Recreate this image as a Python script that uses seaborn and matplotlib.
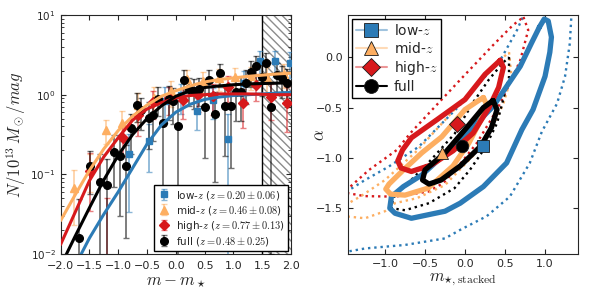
import matplotlib
matplotlib.use("Agg")
import matplotlib.pyplot as plt
from matplotlib.lines import Line2D
from matplotlib.colors import to_rgba
import numpy as np
import seaborn as sns

sns.set_style("ticks", {"xtick.direction": "in", "ytick.direction": "in"})
plt.rcParams["font.family"] = ["DejaVu Sans"]
plt.rcParams["mathtext.fontset"] = "cm"

blue, orange, red = "#2c7bb6", "#fdae61", "#d7191c"

# ---- left panel: binned counts
low_x = [-0.81, -0.46, -0.19, 0.09, 0.37, 0.64, 0.91, 1.18, 1.46, 1.73, 1.98]
low_y = [0.178, 0.266, 0.84, 0.98, 0.63, 0.85, 0.28, 1.41, 2.63, 2.63, 2.50]
low_err = [0.144, 0.16, 0.40, 0.40, 0.27, 0.35, 0.30, 0.55, 0.95, 0.95, 0.90]

mid_x = [-1.77, -1.49, -1.21, -0.93, -0.65, -0.37, -0.09, 0.19, 0.47, 0.75, 1.03, 1.31, 1.59, 1.87]
mid_y = [0.068, 0.12, 0.36, 0.44, 0.75, 0.90, 1.10, 1.59, 1.48, 1.60, 1.66, 1.70, 1.60, 1.80]
mid_err = [0.045, 0.06, 0.12, 0.18, 0.30, 0.35, 0.40, 0.45, 0.45, 0.50, 0.50, 0.55, 0.60, 0.60]

high_x = [-1.49, -1.19, -0.91, -0.65, -0.39, -0.12, 0.13, 0.38, 0.64, 0.90, 1.16, 1.40, 1.66, 1.93]
high_y = [0.11, 0.005, 0.29, 0.55, 0.80, 0.90, 0.85, 1.00, 0.95, 1.26, 0.78, 1.33, 0.93, 0.79]
high_err = [0.075, 0.046, 0.12, 0.25, 0.30, 0.35, 0.35, 0.40, 0.40, 0.45, 0.40, 0.50, 0.45, 0.45]

full_x = [-1.68, -1.49, -1.32, -1.19, -1.07, -0.97, -0.87, -0.785, -0.68, -0.60, -0.46,
          -0.40, -0.31, -0.23, -0.115, -0.045, 0.04, 0.14, 0.23, 0.31, 0.40, 0.50, 0.58,
          0.68, 0.77, 0.86, 0.95, 1.04, 1.125, 1.22, 1.31, 1.39, 1.49, 1.56, 1.66, 1.75,
          1.84, 1.93]
full_y = [0.016, 0.126, 0.081, 0.074, 0.19, 0.17, 0.126, 0.38, 0.75, 0.64, 0.51,
          0.56, 0.89, 0.44, 0.88, 0.83, 0.41, 1.55, 1.17, 1.12, 1.17, 0.71, 1.55,
          0.58, 1.86, 0.72, 0.72, 1.07, 1.07, 1.41, 1.95, 2.29, 1.66, 2.50, 0.71, 1.78,
          1.62, 1.41]
full_err = [0.033, 0.07, 0.10, 0.08, 0.12, 0.14, 0.11, 0.20, 0.30, 0.28, 0.30,
            0.30, 0.35, 0.40, 0.40, 0.40, 0.42, 0.50, 0.45, 0.45, 0.45, 0.55, 0.50,
            0.50, 0.60, 0.55, 0.60, 0.60, 0.60, 0.65, 0.70, 0.75, 0.70, 0.80, 0.70, 0.70,
            0.70, 0.70]

# fitted curves, log10 values read at regular m - m* steps
curve_x = [-2.0, -1.75, -1.5, -1.25, -1.0, -0.75, -0.5, -0.25, 0.0,
           0.25, 0.5, 0.75, 1.0, 1.25, 1.5, 1.75, 2.0]
low_curve = [-2.55, -2.15, -1.80, -1.50, -1.22, -0.92, -0.62, -0.38, -0.22,
             -0.12, -0.06, -0.03, -0.01, 0.0, 0.01, 0.02, 0.03]
mid_curve = [-1.58, -1.26, -0.95, -0.68, -0.45, -0.27, -0.13, -0.02, 0.05,
             0.11, 0.16, 0.19, 0.21, 0.23, 0.245, 0.26, 0.27]
high_curve = [-1.88, -1.48, -1.08, -0.78, -0.54, -0.32, -0.18, -0.10, -0.04,
              -0.01, 0.0, 0.01, 0.01, 0.01, 0.005, 0.0, 0.0]
full_curve = [-2.15, -1.78, -1.42, -1.07, -0.76, -0.50, -0.30, -0.14, -0.02,
              0.05, 0.09, 0.11, 0.125, 0.135, 0.14, 0.145, 0.148]

labels_left = [r"low-$z$ ($z=0.20\pm0.06$)", r"mid-$z$ ($z=0.46\pm0.08$)",
               r"high-$z$ ($z=0.77\pm0.13$)", r"full ($z=0.48\pm0.25$)"]

# ---- right panel: confidence contours (m_star, alpha)
low_1s_m = [0.93, 0.99, 1.04, 1.08, 1.06, 1.00, 0.85, 0.71, 0.52, 0.23, -0.06, -0.25, -0.67,
            -0.875, -0.94, -0.92, -0.77, -0.54, -0.10, 0.35, 0.69, 0.83, 0.93]
low_1s_a = [0.30, 0.38, 0.36, 0.20, 0.05, -0.19, -0.52, -0.72, -1.05, -1.285, -1.45, -1.53, -1.60,
            -1.55, -1.50, -1.385, -1.285, -1.17, -0.85, -0.49, -0.09, 0.14, 0.30]
low_2s_m = [0.75, 0.65, 0.44, 0.15, -0.08, -0.58, -0.96, -1.25, -1.48, -1.60, -1.60, -1.25,
            -0.75, -0.25, -0.06, 0.27, 0.56, 0.81, 0.96, 1.15, 1.25, 1.31, 1.33, 1.34]
low_2s_a = [0.45, 0.27, -0.03, -0.28, -0.49, -0.89, -1.09, -1.22, -1.335, -1.40, -1.95, -1.90,
            -1.865, -1.80, -1.715, -1.58, -1.385, -1.05, -0.74, -0.46, -0.19, 0.14, 0.42, 0.45]
mid_1s_m = [0.23, 0.27, 0.20, 0.05, -0.15, -0.46, -0.75, -0.93, -0.99, -0.95, -0.77, -0.54,
            -0.29, 0.00, 0.15, 0.23]
mid_1s_a = [-0.40, -0.47, -0.62, -0.85, -1.08, -1.30, -1.37, -1.36, -1.31, -1.26, -1.12, -0.95,
            -0.79, -0.52, -0.44, -0.40]
mid_2s_m = [0.55, 0.58, 0.48, 0.35, 0.10, -0.25, -0.60, -0.875, -1.00, -1.25, -1.50, -1.55,
            -1.50, -1.30, -1.00, -0.60, -0.20, 0.20, 0.45, 0.55]
mid_2s_a = [0.05, -0.19, -0.46, -0.69, -0.98, -1.27, -1.40, -1.45, -1.53, -1.60, -1.58, -1.52,
            -1.47, -1.38, -1.22, -0.93, -0.58, -0.22, -0.02, 0.05]
high_1s_m = [0.44, 0.48, 0.42, 0.30, 0.10, -0.15, -0.42, -0.67, -0.80, -0.84, -0.78, -0.67,
             -0.35, 0.00, 0.25, 0.44]
high_1s_a = [-0.03, -0.10, -0.30, -0.50, -0.755, -0.93, -1.07, -1.135, -1.10, -1.03, -0.92, -0.80,
             -0.62, -0.42, -0.17, -0.03]
high_2s_m = [0.73, 0.79, 0.69, 0.56, 0.40, 0.15, -0.10, -0.27, -0.46, -0.875, -1.25, -1.47,
             -1.50, -1.44, -1.20, -0.85, -0.69, -0.35, -0.02, 0.35, 0.60, 0.73]
high_2s_a = [0.40, 0.27, -0.03, -0.26, -0.52, -0.85, -1.10, -1.25, -1.335, -1.385, -1.38, -1.35,
             -1.32, -1.29, -1.12, -0.92, -0.76, -0.47, -0.19, 0.12, 0.32, 0.40]
full_1s_m = [0.35, 0.40, 0.33, 0.20, -0.06, -0.30, -0.45, -0.53, -0.50, -0.25, 0.02, 0.23, 0.35]
full_1s_a = [-0.43, -0.52, -0.70, -0.88, -1.08, -1.22, -1.26, -1.22, -1.12, -0.95, -0.70, -0.50, -0.43]
full_2s_m = [0.55, 0.55, 0.40, 0.25, 0.06, -0.13, -0.45, -0.75, -0.92, -0.90, -0.46, -0.13,
             0.10, 0.30, 0.48, 0.55]
full_2s_a = [0.00, -0.20, -0.655, -0.90, -1.12, -1.30, -1.45, -1.52, -1.50, -1.40, -1.05, -0.76,
             -0.45, -0.22, -0.05, 0.00]

best_m = [0.22, -0.29, -0.10, -0.04]
best_a = [-0.88, -0.95, -0.66, -0.88]
labels_right = [r"low-$z$", r"mid-$z$", r"high-$z$", "full"]

colors = [blue, orange, red, "k"]
markers = ["s", "^", "D", "o"]

fig = plt.figure(figsize=(6, 3), dpi=100)
ax1 = fig.add_axes([0.101, 0.153, 0.384, 0.797])
ax2 = fig.add_axes([0.5795, 0.153, 0.3845, 0.797])

# ---- left panel
ax1.set_yscale("log")
ax1.axvspan(1.5, 2.0, facecolor="none", edgecolor="0.55", hatch="\\\\\\\\", lw=0, zorder=0)
ax1.axvline(1.5, color="k", lw=1, zorder=1)

pts = [(low_x, low_y, low_err), (mid_x, mid_y, mid_err),
       (high_x, high_y, high_err), (full_x, full_y, full_err)]
curves = [low_curve, mid_curve, high_curve, full_curve]
sizes = [5, 5.5, 5.5, 5.5]
handles = []
for (x, y, e), cv, c, mk, ms, lab in zip(pts, curves, colors, markers, sizes, labels_left):
    h = ax1.errorbar(x, y, yerr=e, fmt=mk, color=c, ms=ms, mec=c,
                     ecolor=to_rgba(c, 0.55), elinewidth=1.3, capsize=2, capthick=1,
                     label=lab, zorder=3)
    handles.append(h)
    sns.lineplot(x=curve_x, y=10 ** np.array(cv), color=c, lw=2.2, ax=ax1, zorder=4)

ax1.set_xlim(-2, 2)
ax1.set_ylim(1e-2, 1e1)
ax1.set_xticks([-2.0, -1.5, -1.0, -0.5, 0.0, 0.5, 1.0, 1.5, 2.0])
ax1.tick_params(which="both", top=True, right=True, labelsize=8)
ax1.tick_params(axis="x", pad=5)
ax1.tick_params(axis="y", labelsize=7.5)
ax1.set_xlabel(r"$m - m_\star$", fontsize=12, labelpad=1)
ax1.set_ylabel(r"$N/10^{13}\,M_\odot/mag$", fontsize=12, labelpad=2)
leg1 = ax1.legend(handles=handles, labels=labels_left, loc="lower right", fontsize=7.5,
                  frameon=True, fancybox=False, framealpha=1, edgecolor="k",
                  handletextpad=0.4, borderpad=0.3, labelspacing=0.2,
                  borderaxespad=0.3, handlelength=1.4)
leg1.get_frame().set_linewidth(1)

# ---- right panel
dotted = [(low_2s_m, low_2s_a, blue), (high_2s_m, high_2s_a, red),
          (mid_2s_m, mid_2s_a, orange), (full_2s_m, full_2s_a, "k")]
for m, a, c in dotted:
    ax2.plot(m, a, ls=":", color=c, lw=1.7, zorder=2)
solid = [(low_1s_m, low_1s_a, blue), (mid_1s_m, mid_1s_a, orange),
         (high_1s_m, high_1s_a, red), (full_1s_m, full_1s_a, "k")]
for i, (m, a, c) in enumerate(solid):
    ax2.plot(m, a, ls="-", color=c, lw=3.8, solid_joinstyle="round", zorder=3 + i)

for m, a, c, mk in zip(best_m, best_a, colors, markers):
    ax2.plot(m, a, marker=mk, ms=9 if mk != "D" else 8, color=c, mec="0.1", mew=0.6,
             ls="none", zorder=10)

ax2.set_xlim(-1.466, 1.417)
ax2.set_ylim(-1.956, 0.42)
ax2.set_xticks([-1.0, -0.5, 0.0, 0.5, 1.0])
ax2.set_yticks([-1.5, -1.0, -0.5, 0.0])
ax2.tick_params(which="both", top=True, right=True, labelsize=8)
ax2.set_xlabel(r"$m_{\star,\rm stacked}$", fontsize=12, labelpad=1)
ax2.set_ylabel(r"$\alpha$", fontsize=12)
ax2.yaxis.set_label_coords(-0.085, 0.5)

rh = [Line2D([], [], color=to_rgba(c, 0.45) if c != "k" else "k", lw=1.5, marker=mk,
             ms=10 if mk != "D" else 9, mfc=c, mec="0.1", mew=0.6)
      for c, mk in zip(colors, markers)]
leg2 = ax2.legend(rh, labels_right, loc="upper left", fontsize=10, frameon=True,
                  fancybox=False, framealpha=1, edgecolor="k", handlelength=2.2,
                  handletextpad=0.5, borderpad=0.3, labelspacing=0.2, borderaxespad=0.3)
leg2.get_frame().set_linewidth(1)

fig.savefig("out.png", dpi=100)
